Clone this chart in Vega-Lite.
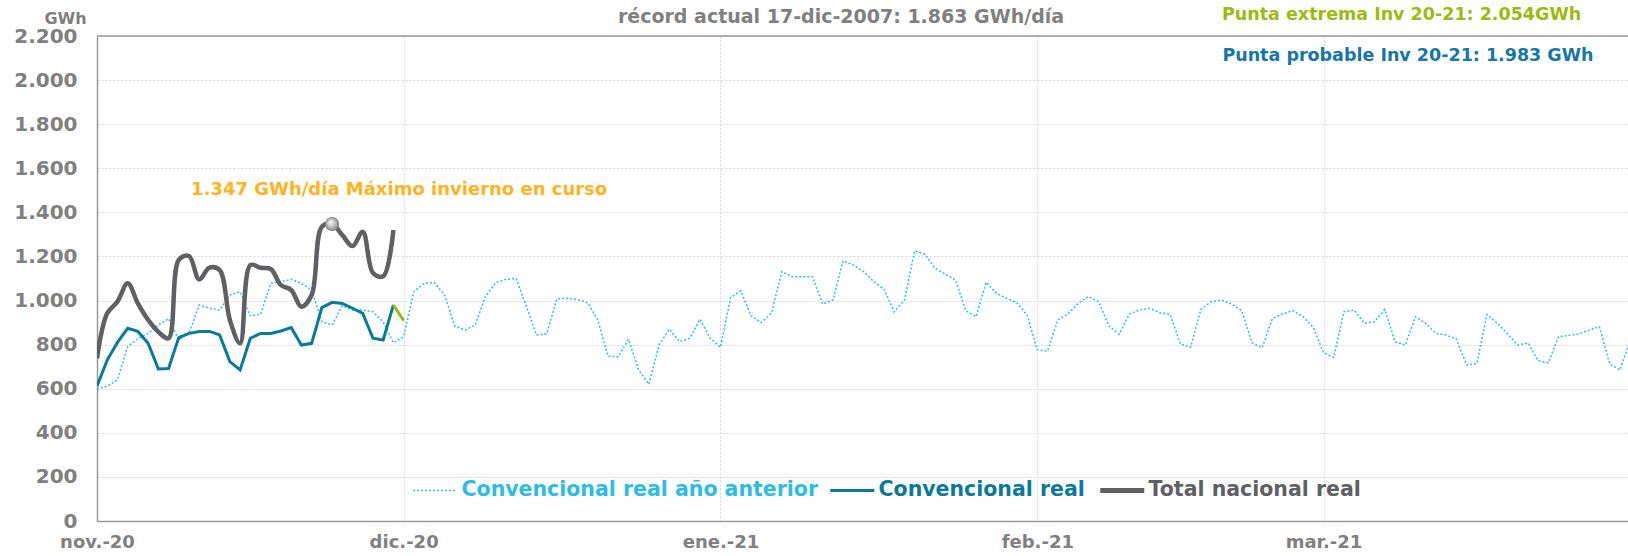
{
  "$schema": "https://vega.github.io/schema/vega-lite/v6.json",
  "width": 1531,
  "height": 485,
  "autosize": "none",
  "padding": {"left": 97, "top": 36, "right": 0, "bottom": 35},
  "background": "white",
  "config": {"view": {"stroke": null}, "font": "DejaVu Sans"},
  "datasets": {
    "diario": [
      {"fecha":"2020-11-01","anterior":598,"real":612,"total":738},
      {"fecha":"2020-11-02","anterior":612,"real":730,"total":942},
      {"fecha":"2020-11-03","anterior":640,"real":810,"total":995},
      {"fecha":"2020-11-04","anterior":790,"real":874,"total":1078},
      {"fecha":"2020-11-05","anterior":828,"real":860,"total":987},
      {"fecha":"2020-11-06","anterior":850,"real":806,"total":912},
      {"fecha":"2020-11-07","anterior":889,"real":690,"total":858},
      {"fecha":"2020-11-08","anterior":918,"real":692,"total":829},
      {"fecha":"2020-11-09","anterior":822,"real":832,"total":1184},
      {"fecha":"2020-11-10","anterior":851,"real":851,"total":1202},
      {"fecha":"2020-11-11","anterior":980,"real":860,"total":1096},
      {"fecha":"2020-11-12","anterior":965,"real":860,"total":1149},
      {"fecha":"2020-11-13","anterior":957,"real":844,"total":1138},
      {"fecha":"2020-11-14","anterior":1025,"real":723,"total":912},
      {"fecha":"2020-11-15","anterior":1040,"real":685,"total":806},
      {"fecha":"2020-11-16","anterior":931,"real":829,"total":1161},
      {"fecha":"2020-11-17","anterior":938,"real":851,"total":1149},
      {"fecha":"2020-11-18","anterior":1078,"real":851,"total":1143},
      {"fecha":"2020-11-19","anterior":1086,"real":862,"total":1070},
      {"fecha":"2020-11-20","anterior":1096,"real":877,"total":1048},
      {"fecha":"2020-11-21","anterior":1078,"real":798,"total":972},
      {"fecha":"2020-11-22","anterior":1048,"real":806,"total":1025},
      {"fecha":"2020-11-23","anterior":904,"real":968,"total":1335},
      {"fecha":"2020-11-24","anterior":889,"real":992,"total":1347},
      {"fecha":"2020-11-25","anterior":976,"real":987,"total":1297},
      {"fecha":"2020-11-26","anterior":957,"real":965,"total":1247},
      {"fecha":"2020-11-27","anterior":957,"real":942,"total":1312},
      {"fecha":"2020-11-28","anterior":949,"real":829,"total":1125},
      {"fecha":"2020-11-29","anterior":904,"real":821,"total":1110},
      {"fecha":"2020-11-30","anterior":809,"real":980,"total":1320},
      {"fecha":"2020-12-01","anterior":836},
      {"fecha":"2020-12-02","anterior":1040},
      {"fecha":"2020-12-03","anterior":1078},
      {"fecha":"2020-12-04","anterior":1082},
      {"fecha":"2020-12-05","anterior":1025},
      {"fecha":"2020-12-06","anterior":885},
      {"fecha":"2020-12-07","anterior":866},
      {"fecha":"2020-12-08","anterior":889},
      {"fecha":"2020-12-09","anterior":1018},
      {"fecha":"2020-12-10","anterior":1081},
      {"fecha":"2020-12-11","anterior":1096},
      {"fecha":"2020-12-12","anterior":1100},
      {"fecha":"2020-12-13","anterior":975},
      {"fecha":"2020-12-14","anterior":844},
      {"fecha":"2020-12-15","anterior":849},
      {"fecha":"2020-12-16","anterior":1008},
      {"fecha":"2020-12-17","anterior":1010},
      {"fecha":"2020-12-18","anterior":1005},
      {"fecha":"2020-12-19","anterior":990},
      {"fecha":"2020-12-20","anterior":912},
      {"fecha":"2020-12-21","anterior":748},
      {"fecha":"2020-12-22","anterior":745},
      {"fecha":"2020-12-23","anterior":824},
      {"fecha":"2020-12-24","anterior":685},
      {"fecha":"2020-12-25","anterior":621},
      {"fecha":"2020-12-26","anterior":798},
      {"fecha":"2020-12-27","anterior":870},
      {"fecha":"2020-12-28","anterior":813},
      {"fecha":"2020-12-29","anterior":829},
      {"fecha":"2020-12-30","anterior":915},
      {"fecha":"2020-12-31","anterior":829},
      {"fecha":"2021-01-01","anterior":788},
      {"fecha":"2021-01-02","anterior":1015},
      {"fecha":"2021-01-03","anterior":1043},
      {"fecha":"2021-01-04","anterior":930},
      {"fecha":"2021-01-05","anterior":900},
      {"fecha":"2021-01-06","anterior":945},
      {"fecha":"2021-01-07","anterior":1131},
      {"fecha":"2021-01-08","anterior":1108},
      {"fecha":"2021-01-09","anterior":1108},
      {"fecha":"2021-01-10","anterior":1108},
      {"fecha":"2021-01-11","anterior":984},
      {"fecha":"2021-01-12","anterior":1002},
      {"fecha":"2021-01-13","anterior":1181},
      {"fecha":"2021-01-14","anterior":1161},
      {"fecha":"2021-01-15","anterior":1131},
      {"fecha":"2021-01-16","anterior":1086},
      {"fecha":"2021-01-17","anterior":1051},
      {"fecha":"2021-01-18","anterior":949},
      {"fecha":"2021-01-19","anterior":1002},
      {"fecha":"2021-01-20","anterior":1226},
      {"fecha":"2021-01-21","anterior":1210},
      {"fecha":"2021-01-22","anterior":1146},
      {"fecha":"2021-01-23","anterior":1120},
      {"fecha":"2021-01-24","anterior":1093},
      {"fecha":"2021-01-25","anterior":954},
      {"fecha":"2021-01-26","anterior":927},
      {"fecha":"2021-01-27","anterior":1083},
      {"fecha":"2021-01-28","anterior":1033},
      {"fecha":"2021-01-29","anterior":1010},
      {"fecha":"2021-01-30","anterior":990},
      {"fecha":"2021-01-31","anterior":934},
      {"fecha":"2021-02-01","anterior":776},
      {"fecha":"2021-02-02","anterior":771},
      {"fecha":"2021-02-03","anterior":912},
      {"fecha":"2021-02-04","anterior":939},
      {"fecha":"2021-02-05","anterior":987},
      {"fecha":"2021-02-06","anterior":1018},
      {"fecha":"2021-02-07","anterior":995},
      {"fecha":"2021-02-08","anterior":885},
      {"fecha":"2021-02-09","anterior":847},
      {"fecha":"2021-02-10","anterior":939},
      {"fecha":"2021-02-11","anterior":957},
      {"fecha":"2021-02-12","anterior":965},
      {"fecha":"2021-02-13","anterior":945},
      {"fecha":"2021-02-14","anterior":937},
      {"fecha":"2021-02-15","anterior":803},
      {"fecha":"2021-02-16","anterior":788},
      {"fecha":"2021-02-17","anterior":960},
      {"fecha":"2021-02-18","anterior":995},
      {"fecha":"2021-02-19","anterior":1002},
      {"fecha":"2021-02-20","anterior":984},
      {"fecha":"2021-02-21","anterior":954},
      {"fecha":"2021-02-22","anterior":809},
      {"fecha":"2021-02-23","anterior":786},
      {"fecha":"2021-02-24","anterior":919},
      {"fecha":"2021-02-25","anterior":939},
      {"fecha":"2021-02-26","anterior":954},
      {"fecha":"2021-02-27","anterior":927},
      {"fecha":"2021-02-28","anterior":878},
      {"fecha":"2021-03-01","anterior":764},
      {"fecha":"2021-03-02","anterior":742},
      {"fecha":"2021-03-03","anterior":949},
      {"fecha":"2021-03-04","anterior":957},
      {"fecha":"2021-03-05","anterior":897},
      {"fecha":"2021-03-06","anterior":904},
      {"fecha":"2021-03-07","anterior":960},
      {"fecha":"2021-03-08","anterior":813},
      {"fecha":"2021-03-09","anterior":798},
      {"fecha":"2021-03-10","anterior":927},
      {"fecha":"2021-03-11","anterior":897},
      {"fecha":"2021-03-12","anterior":851},
      {"fecha":"2021-03-13","anterior":844},
      {"fecha":"2021-03-14","anterior":824},
      {"fecha":"2021-03-15","anterior":708},
      {"fecha":"2021-03-16","anterior":713},
      {"fecha":"2021-03-17","anterior":937},
      {"fecha":"2021-03-18","anterior":897},
      {"fecha":"2021-03-19","anterior":850},
      {"fecha":"2021-03-20","anterior":798},
      {"fecha":"2021-03-21","anterior":808},
      {"fecha":"2021-03-22","anterior":727},
      {"fecha":"2021-03-23","anterior":718},
      {"fecha":"2021-03-24","anterior":836},
      {"fecha":"2021-03-25","anterior":842},
      {"fecha":"2021-03-26","anterior":849},
      {"fecha":"2021-03-27","anterior":866},
      {"fecha":"2021-03-28","anterior":881},
      {"fecha":"2021-03-29","anterior":712},
      {"fecha":"2021-03-30","anterior":685},
      {"fecha":"2021-03-31","anterior":820}
    ],
    "previsto": [
      {"fecha":"2020-11-30","valor":980},
      {"fecha":"2020-12-01","valor":909}
    ],
    "notas": [
      {"fecha":"2021-01-12T19:00:00Z","valor":2286,"texto":"récord actual 17-dic-2007: 1.863 GWh/día"}
    ]
  },
  "layer": [
    {
      "data": {"values": [{}]},
      "mark": {"type": "rule", "color": "#9a9a9a", "strokeWidth": 1.5},
      "encoding": {"y": {"datum": 2200, "type": "quantitative"}}
    },
    {
      "data": {"name": "diario"},
      "transform": [
        {"fold": ["anterior", "real", "total"], "as": ["serie", "valor"]},
        {"filter": "isValid(datum.valor)"},
        {"filter": "datum.serie == 'anterior'"}
      ],
      "mark": {"type": "line", "clip": true, "strokeWidth": 1.5, "strokeDash": [2, 2]},
      "encoding": {
        "x": {
          "field": "fecha", "type": "temporal",
          "scale": {"type": "utc", "domain": [{"year": 2020, "month": 11, "date": 1, "utc": true}, {"year": 2021, "month": 3, "date": 30, "hours": 19, "utc": true}]},
          "axis": {
            "title": null,
            "tickCount": {"interval": "month", "step": 1},
            "labelExpr": "['ene.','feb.','mar.','abr.','may.','jun.','jul.','ago.','sep.','oct.','nov.','dic.'][utcmonth(datum.value)] + '-' + utcFormat(datum.value, '%y')",
            "labelFontSize": 18, "labelFontWeight": "bold", "labelColor": "#808080", "labelFont": "DejaVu Sans",
            "labelPadding": 12, "ticks": false, "labelFlush": false, "labelOverlap": false,
            "domainColor": "#9a9a9a", "domainWidth": 1.5,
            "grid": true, "gridColor": "#d4d4d4", "gridDash": [2, 2], "gridWidth": 1
          }
        },
        "y": {
          "field": "valor", "type": "quantitative",
          "scale": {"domain": [0, 2200], "nice": false, "zero": true},
          "axis": {
            "title": "GWh", "titleAngle": 0, "titleX": -32, "titleY": -18, "titleAlign": "center", "titleBaseline": "middle",
            "titleFontSize": 16, "titleFontWeight": "bold", "titleColor": "#808080", "titleFont": "DejaVu Sans",
            "values": [0, 200, 400, 600, 800, 1000, 1200, 1400, 1600, 1800, 2000, 2200],
            "labelExpr": "replace(format(datum.value, ','), ',', '.')",
            "labelFontSize": 20, "labelFontWeight": "bold", "labelColor": "#808080", "labelFont": "DejaVu Sans",
            "labelPadding": 20, "ticks": false,
            "domainColor": "#9a9a9a", "domainWidth": 1.5,
            "grid": true, "gridColor": "#d4d4d4", "gridDash": [2, 2], "gridWidth": 1
          }
        },
        "color": {
          "field": "serie", "type": "nominal",
          "scale": {"domain": ["anterior", "real", "total"], "range": ["#2bbde8", "#0a7a9c", "#5f6064"]},
          "legend": {
            "title": null, "orient": "none", "legendX": 328, "legendY": 444, "direction": "horizontal",
            "symbolType": "stroke", "symbolSize": 1936, "labelFontSize": 20.5, "labelFontWeight": "bold", "labelFont": "DejaVu Sans",
            "labelOffset": 16, "columnPadding": 5, "padding": 0, "labelLimit": 0,
            "labelExpr": "{'anterior': 'Convencional real año anterior', 'real': 'Convencional real', 'total': 'Total nacional real'}[datum.label]",
            "encode": {
              "labels": {"update": {"fill": {"scale": "color", "field": "value"}}},
              "symbols": {"update": {
                "strokeWidth": {"signal": "datum.value == 'total' ? 5 : datum.value == 'real' ? 3 : 1.5"},
                "strokeDash": {"signal": "datum.value == 'anterior' ? [2, 2] : [10, 0]"}
              }}
            }
          }
        }
      }
    },
    {
      "data": {"name": "diario"},
      "transform": [
        {"fold": ["anterior", "real", "total"], "as": ["serie", "valor"]},
        {"filter": "isValid(datum.valor)"},
        {"filter": "datum.serie == 'real'"}
      ],
      "mark": {"type": "line", "clip": true, "strokeWidth": 3},
      "encoding": {
        "x": {"field": "fecha", "type": "temporal"},
        "y": {"field": "valor", "type": "quantitative"},
        "color": {"field": "serie", "type": "nominal"}
      }
    },
    {
      "data": {"name": "previsto"},
      "mark": {"type": "line", "color": "#9dba12", "strokeWidth": 3},
      "encoding": {
        "x": {"field": "fecha", "type": "temporal"},
        "y": {"field": "valor", "type": "quantitative"}
      }
    },
    {
      "data": {"name": "diario"},
      "transform": [
        {"fold": ["anterior", "real", "total"], "as": ["serie", "valor"]},
        {"filter": "isValid(datum.valor)"},
        {"filter": "datum.serie == 'total'"}
      ],
      "mark": {"type": "line", "interpolate": "catmull-rom", "clip": true, "strokeWidth": 4.5},
      "encoding": {
        "x": {"field": "fecha", "type": "temporal"},
        "y": {"field": "valor", "type": "quantitative"},
        "color": {"field": "serie", "type": "nominal"}
      }
    },
    {
      "data": {"values": [{"fecha": "2020-11-24", "valor": 1347}]},
      "mark": {"type": "point", "filled": true, "size": 200, "opacity": 1, "strokeWidth": 0,
        "color": {"gradient": "radial", "x1": 0.38, "y1": 0.35, "r1": 0, "x2": 0.5, "y2": 0.5, "r2": 0.55,
          "stops": [{"offset": 0, "color": "#ffffff"}, {"offset": 0.45, "color": "#c8c8c8"}, {"offset": 1, "color": "#6e6e6e"}]}},
      "encoding": {
        "x": {"field": "fecha", "type": "temporal"},
        "y": {"field": "valor", "type": "quantitative"}
      }
    },
    {
      "data": {"name": "notas"},
      "mark": {"type": "text", "align": "center", "baseline": "middle", "fontSize": 19, "fontWeight": "bold", "color": "#808080", "font": "DejaVu Sans"},
      "encoding": {
        "x": {"field": "fecha", "type": "temporal"},
        "y": {"field": "valor", "type": "quantitative"},
        "text": {"field": "texto"}
      }
    },
    {
      "data": {"values": [{"fecha": "2020-11-10T05:00:00Z", "valor": 1501, "texto": "1.347 GWh/día Máximo invierno en curso"}]},
      "mark": {"type": "text", "align": "left", "baseline": "middle", "fontSize": 18, "fontWeight": "bold", "color": "#ffb31c", "font": "DejaVu Sans"},
      "encoding": {
        "x": {"field": "fecha", "type": "temporal"},
        "y": {"field": "valor", "type": "quantitative"},
        "text": {"field": "texto"}
      }
    },
    {
      "data": {"values": [{"fecha": "2021-03-26T05:00:00Z", "valor": 2297, "texto": "Punta extrema Inv 20-21: 2.054GWh"}]},
      "mark": {"type": "text", "align": "right", "baseline": "middle", "fontSize": 17.5, "fontWeight": "bold", "color": "#9dba12", "font": "DejaVu Sans"},
      "encoding": {
        "x": {"field": "fecha", "type": "temporal"},
        "y": {"field": "valor", "type": "quantitative"},
        "text": {"field": "texto"}
      }
    },
    {
      "data": {"values": [{"fecha": "2021-03-27T10:00:00Z", "valor": 2109, "texto": "Punta probable Inv 20-21: 1.983 GWh"}]},
      "mark": {"type": "text", "align": "right", "baseline": "middle", "fontSize": 17.5, "fontWeight": "bold", "color": "#1477ab", "font": "DejaVu Sans"},
      "encoding": {
        "x": {"field": "fecha", "type": "temporal"},
        "y": {"field": "valor", "type": "quantitative"},
        "text": {"field": "texto"}
      }
    }
  ]
}
